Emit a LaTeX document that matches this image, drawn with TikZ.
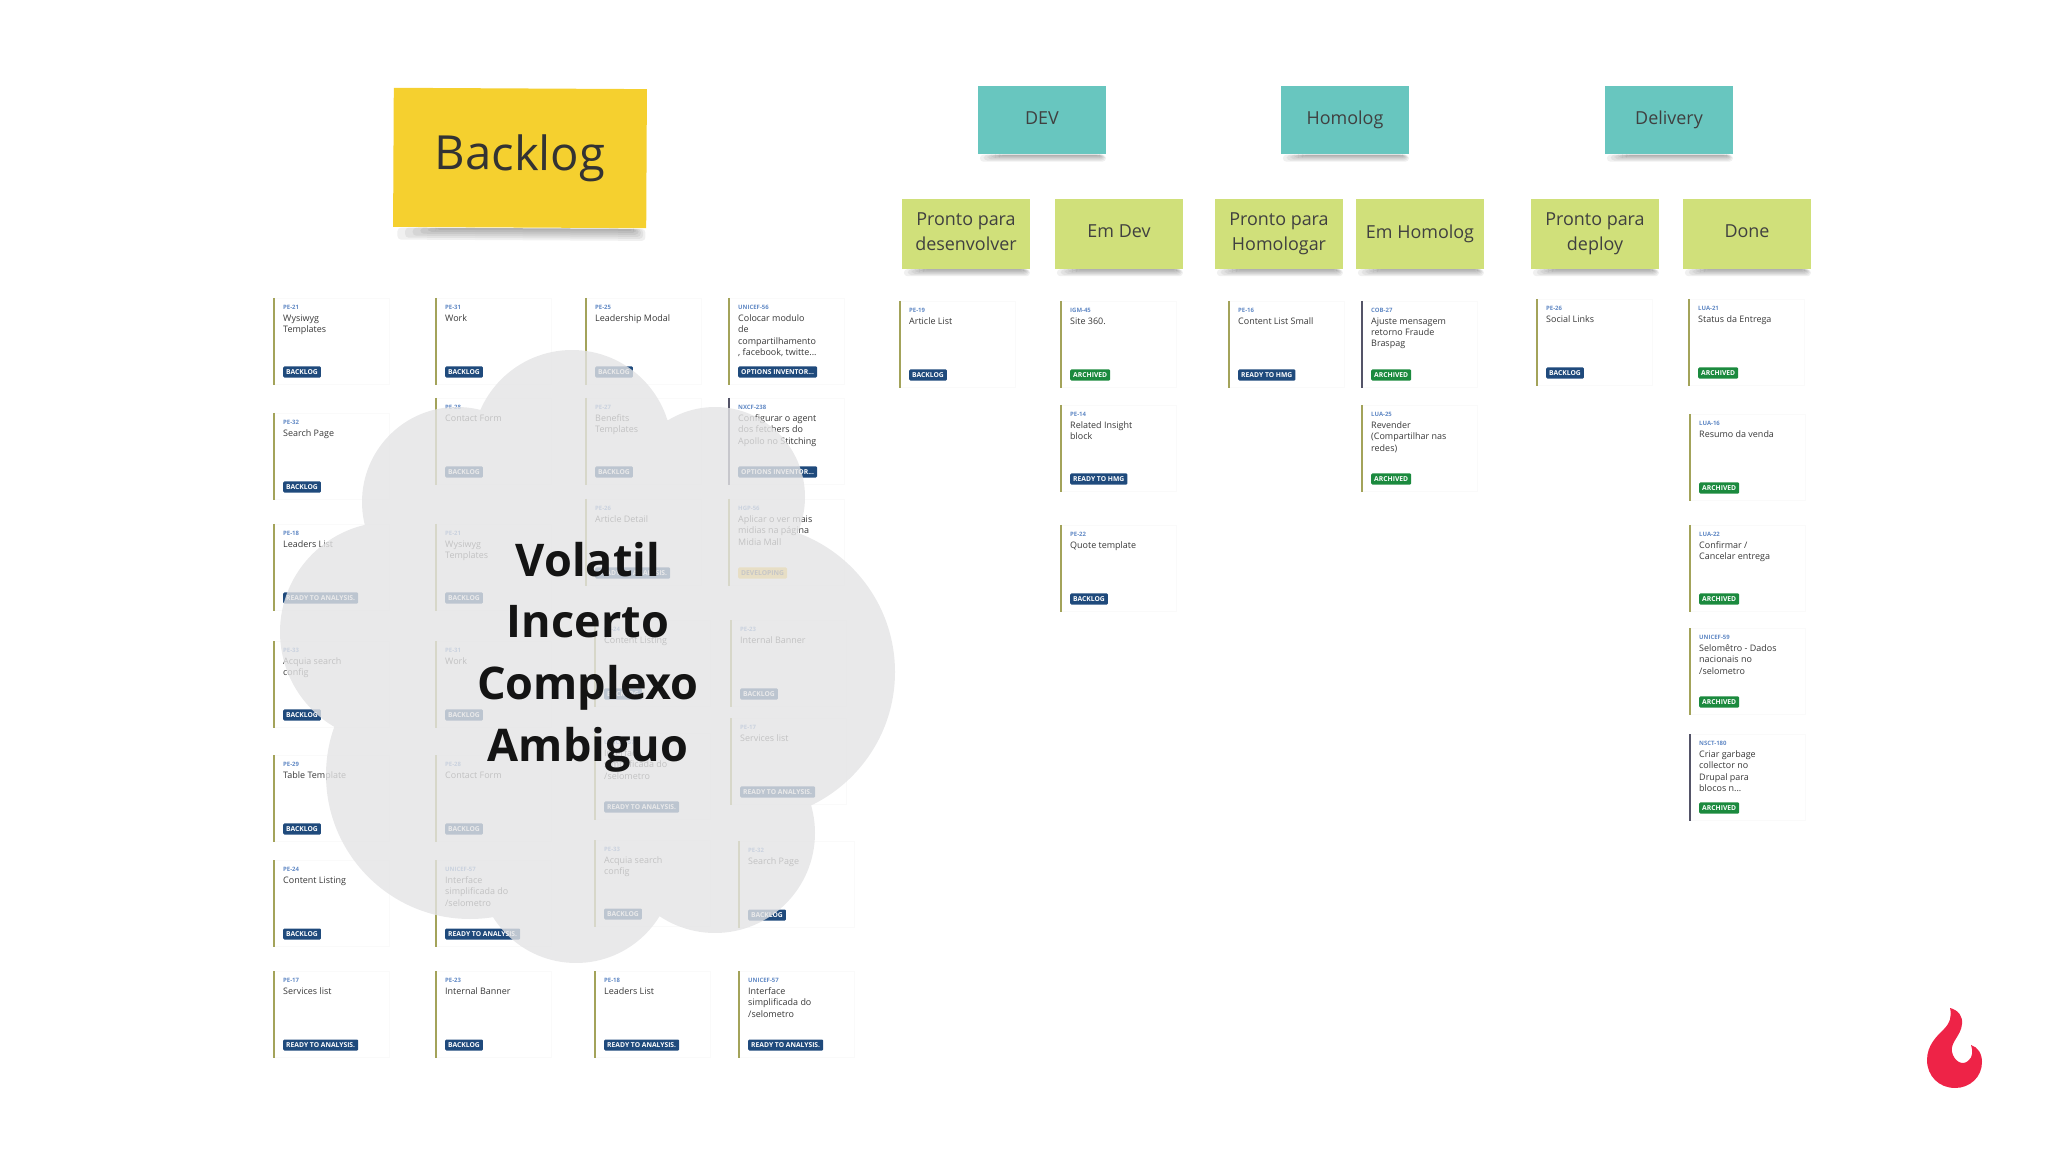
\documentclass[tikz,border=0pt]{standalone}
\usepackage{fontspec}
\setmainfont{Open Sans}
\usepackage{tikz}
\usetikzlibrary{calc,backgrounds}
\definecolor{bkyellow}{RGB}{245,208,47}
\definecolor{stteal}{RGB}{104,198,191}
\definecolor{stlime}{RGB}{208,224,122}
\definecolor{inknavy}{RGB}{31,74,124}
\definecolor{inkgreen}{RGB}{27,138,62}
\definecolor{inkyellow}{RGB}{245,200,70}
\definecolor{idblue}{RGB}{96,136,196}
\definecolor{barolive}{RGB}{163,163,90}
\definecolor{bardark}{RGB}{84,84,104}
\definecolor{cloudgrey}{RGB}{228,228,229}
\definecolor{flamered}{RGB}{238,35,71}
\newcommand{\card}[8][barolive]{%
  \node[cardbox] (#2) at (#3,#4) {};
  \draw[cardbar, draw=#1] (#2.north west) -- (#2.south west);
  \node[cardid] (#2id) at ([shift={(8.5,9)}]#2.north west) {#5};
  \node[cardtitle] (#2txt) at ([shift={(8.5,16)}]#2.north west) {#6};
  \node[#7] (#2tag) at ([shift={(8.5,74)}]#2.north west) {#8};
}

\begin{document}
\begin{tikzpicture}[
  x=0.01cm, y=-0.01cm,
  stickybig/.style={fill=bkyellow, minimum width=2.53cm, minimum height=1.39cm, text=black!80,
                    font=\fontsize{13.4}{15}\selectfont, inner sep=0pt},
  stickyteal/.style={fill=stteal, minimum width=1.28cm, minimum height=0.68cm, text=black!75,
                     text height=4pt, text depth=1.3pt, font=\fontsize{5.1}{7}\selectfont, inner sep=0pt},
  stickylime/.style={fill=stlime, minimum width=1.28cm, minimum height=0.69cm, text=black!75, align=center,
                     text depth=1.5pt, font=\fontsize{5.1}{7.05}\selectfont, inner sep=0pt},
  cardbox/.style={anchor=north west, draw=black!2, line width=0.15pt, minimum width=1.15cm, minimum height=0.86cm, inner sep=0pt},
  cardbar/.style={line width=0.42pt},
  cardid/.style={anchor=west, inner sep=0pt, text=idblue, font=\fontsize{1.7}{2}\selectfont\bfseries},
  cardtitle/.style={anchor=north west, inner sep=0pt, align=left, text=black!78, font=\fontsize{2.55}{3.2}\selectfont},
  navytag/.style={anchor=west, fill=inknavy, text=white, rounded corners=0.3pt, inner xsep=0.85pt, inner ysep=0pt,
                  minimum height=0.11cm, font=\fontsize{1.92}{2}\selectfont\bfseries},
  greentag/.style={navytag, fill=inkgreen},
  yellowtag/.style={navytag, fill=inkyellow, text=black!70},
  shadowlayer/.style={black, opacity=0.06, rounded corners=1pt},
  cloudtext/.style={align=center, text=black!92, font=\fontsize{12.8}{17.5}\selectfont\bfseries},
]
\useasboundingbox (0,0) rectangle (2048,1152);
% stickies
\node[stickybig, rotate=-0.3] (backlog) at (520,158) {\raisebox{1.4pt}{Backlog}};
\node[stickyteal] (dev) at (1042,120) {DEV};
\node[stickyteal] (homolog) at (1345,120) {Homolog};
\node[stickyteal] (delivery) at (1669,120) {Delivery};
\node[stickylime] (prontodev) at (966,234) {Pronto para\\desenvolver};
\node[stickylime] (emdev) at (1119,234) {Em Dev};
\node[stickylime] (prontohmg) at (1279,234) {Pronto para\\Homologar};
\node[stickylime] (emhmg) at (1420,234) {Em Homolog};
\node[stickylime] (prontodeploy) at (1595,234) {Pronto para\\deploy};
\node[stickylime] (done) at (1747,234) {Done};
\begin{scope}[on background layer]
  \foreach \nm/\dep in {backlog/12, dev/7, homolog/7, delivery/7, prontodev/7, emdev/7, prontohmg/7, emhmg/7, prontodeploy/7, done/7} {
    \foreach \ss in {1,...,6} {
      \pgfmathsetmacro{\inn}{0.2-0.03*\ss}
      \pgfmathsetmacro{\low}{\dep*\ss/6}
      \coordinate (sa) at ($(\nm.south west)!\inn!(\nm.south east)$);
      \coordinate (sb) at ($(\nm.south east)!{\inn*0.3}!(\nm.south west)$);
      \fill[shadowlayer] (sa) -- ($(sa)+(0,\low)$) -- ($(sb)+(0,\low)$) -- (sb) -- cycle;
    }
  }
\end{scope}
% backlog cards
\card{aa}{274}{298}{PE-21}{Wysiwyg\\Templates}{navytag}{BACKLOG}
\card{ab}{274}{413}{PE-32}{Search Page}{navytag}{BACKLOG}
\card{ac}{274}{524}{PE-18}{Leaders List}{navytag}{READY TO ANALYSIS.}
\card{ad}{274}{641}{PE-33}{Acquia search\\config}{navytag}{BACKLOG}
\card{ae}{274}{755}{PE-29}{Table Template}{navytag}{BACKLOG}
\card{af}{274}{860}{PE-24}{Content Listing}{navytag}{BACKLOG}
\card{ag}{274}{971}{PE-17}{Services list}{navytag}{READY TO ANALYSIS.}
\card{ba}{436}{298}{PE-31}{Work}{navytag}{BACKLOG}
\card{bb}{436}{398}{PE-28}{Contact Form}{navytag}{BACKLOG}
\card{bc}{436}{524}{PE-21}{Wysiwyg\\Templates}{navytag}{BACKLOG}
\card{bd}{436}{641}{PE-31}{Work}{navytag}{BACKLOG}
\card{be}{436}{755}{PE-28}{Contact Form}{navytag}{BACKLOG}
\card{bf}{436}{860}{UNICEF-57}{Interface\\simplificada do\\/selometro}{navytag}{READY TO ANALYSIS.}
\card{bg}{436}{971}{PE-23}{Internal Banner}{navytag}{BACKLOG}
\card{ca}{586}{298}{PE-25}{Leadership Modal}{navytag}{BACKLOG}
\card{cb}{586}{398}{PE-27}{Benefits\\Templates}{navytag}{BACKLOG}
\card{cc}{586}{499}{PE-26}{Article Detail}{navytag}{READY TO ANALYSIS.}
\card{cd}{595}{620}{PE-24}{Content Listing}{navytag}{BACKLOG}
\card{ce}{595}{733}{UNICEF-57}{Interface\\simplificada do\\/selometro}{navytag}{READY TO ANALYSIS.}
\card{cf}{595}{840}{PE-33}{Acquia search\\config}{navytag}{BACKLOG}
\card{cg}{595}{971}{PE-18}{Leaders List}{navytag}{READY TO ANALYSIS.}
\card{da}{729}{298}{UNICEF-56}{Colocar modulo\\de\\compartilhamento\\, facebook, twitte...}{navytag}{OPTIONS INVENTOR...}
\card[bardark]{db}{729}{398}{NXCF-238}{Configurar o agent\\dos fetchers do\\Apollo no Stitching}{navytag}{OPTIONS INVENTOR...}
\card{dc}{729}{499}{HGP-56}{Aplicar o ver mais\\midias na página\\Midia Mall}{yellowtag}{DEVELOPING}
\card{dd}{731}{620}{PE-23}{Internal Banner}{navytag}{BACKLOG}
\card{de}{731}{718}{PE-17}{Services list}{navytag}{READY TO ANALYSIS.}
\card{df}{739}{841}{PE-32}{Search Page}{navytag}{BACKLOG}
\card{dg}{739}{971}{UNICEF-57}{Interface\\simplificada do\\/selometro}{navytag}{READY TO ANALYSIS.}
% dev, homolog, delivery cards
\card{ea}{900}{301}{PE-19}{Article List}{navytag}{BACKLOG}
\card{fa}{1061}{301}{IGM-45}{Site 360.}{greentag}{ARCHIVED}
\card{fb}{1061}{405}{PE-14}{Related Insight\\block}{navytag}{READY TO HMG}
\card{fc}{1061}{525}{PE-22}{Quote template}{navytag}{BACKLOG}
\card{ga}{1229}{301}{PE-16}{Content List Small}{navytag}{READY TO HMG}
\card[bardark]{ha}{1362}{301}{COB-27}{Ajuste mensagem\\retorno Fraude\\Braspag}{greentag}{ARCHIVED}
\card{hb}{1362}{405}{LUA-25}{Revender\\(Compartilhar nas\\redes)}{greentag}{ARCHIVED}
\card{ia}{1537}{299}{PE-26}{Social Links}{navytag}{BACKLOG}
\card{ja}{1689}{299}{LUA-21}{Status da Entrega}{greentag}{ARCHIVED}
\card{jb}{1690}{414}{LUA-16}{Resumo da venda}{greentag}{ARCHIVED}
\card{jc}{1690}{525}{LUA-22}{Confirmar /\\Cancelar entrega}{greentag}{ARCHIVED}
\card{jd}{1690}{628}{UNICEF-59}{Selomêtro - Dados\\nacionais no\\/selometro}{greentag}{ARCHIVED}
\card[bardark]{je}{1690}{734}{NSCT-180}{Criar garbage\\collector no\\Drupal para\\blocos n...}{greentag}{ARCHIVED}
% cloud
\fill[cloudgrey, fill opacity=0.8] (572,450) circle (100) (457,502) circle (95) (715,497) circle (90)
  (747,672) circle (148) (715,833) circle (100) (576,865) circle (98) (470,775) circle (144)
  (390,632) circle (110) (580,660) circle (200);
\node[cloudtext] (vuca) at (588,657) {Volatil\\Incerto\\Complexo\\Ambiguo};
% flame
\fill[flamered] (1950,1008) .. controls (1958,1010) and (1963,1016) .. (1962,1024)
  .. controls (1961,1036) and (1950,1042) .. (1952,1052)
  .. controls (1954,1061) and (1962,1066) .. (1968,1061)
  .. controls (1973,1057) and (1973,1051) .. (1971,1045)
  .. controls (1978,1047) and (1982,1054) .. (1982,1062)
  .. controls (1982,1077) and (1970,1088) .. (1955,1088)
  .. controls (1939,1088) and (1927,1076) .. (1927,1060)
  .. controls (1927,1045) and (1937,1036) .. (1944,1029)
  .. controls (1950,1023) and (1952,1016) .. (1950,1008) -- cycle;
\end{tikzpicture}
\end{document}
